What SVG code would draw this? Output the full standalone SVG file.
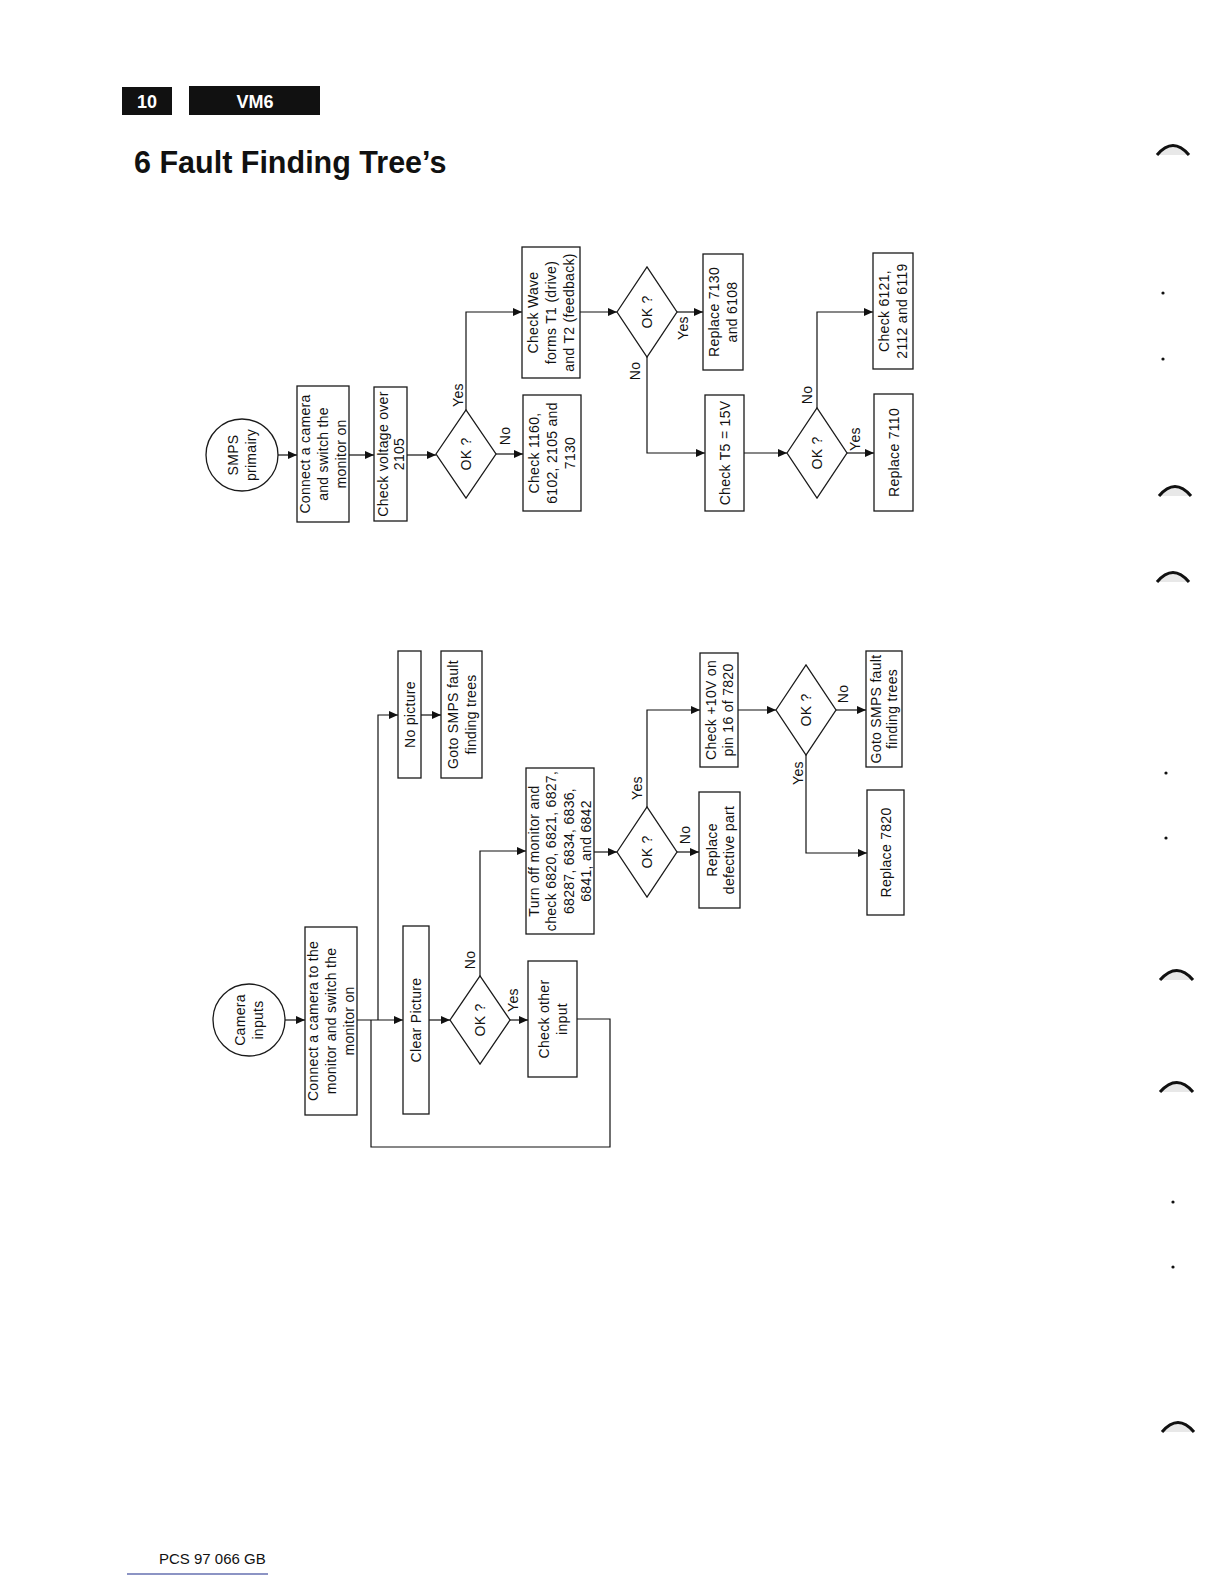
<svg xmlns="http://www.w3.org/2000/svg" width="1224" height="1584" viewBox="0 0 1224 1584">
<defs>
<style>
.box{fill:#fff;stroke:#1a1a1a;stroke-width:1.3}
.t{font-family:"Liberation Sans",Arial,sans-serif;font-size:14px;letter-spacing:0.3px;fill:#111}
.c{stroke:#111;stroke-width:1.2;fill:none}
.ca{stroke:#111;stroke-width:1.2;fill:none;marker-end:url(#ah)}
.hd{font-family:"Liberation Sans",Arial,sans-serif;font-weight:bold;fill:#fff;font-size:18px}
.mark{fill:#e8e8e8;stroke:#111;stroke-width:3}
</style>
<marker id="ah" markerWidth="9" markerHeight="8" refX="9" refY="4" orient="auto" markerUnits="userSpaceOnUse"><path d="M0,0 L9,4 L0,8 z" fill="#111"/></marker>
</defs>
<rect width="1224" height="1584" fill="#fff"/>

<g id="header">
<rect x="122" y="87" width="50" height="28" fill="#111"/>
<text class="hd" x="147" y="108" text-anchor="middle">10</text>
<rect x="189" y="86" width="131" height="29" fill="#111"/>
<text class="hd" x="255" y="108" text-anchor="middle">VM6</text>
<text x="134" y="173" font-family="Liberation Sans, Arial, sans-serif" font-weight="bold" font-size="30.5" fill="#111">6 Fault Finding Tree’s</text>
</g>

<g id="connectors">
<line class="ca" x1="278" y1="455" x2="297" y2="455"/>
<line class="ca" x1="349" y1="455" x2="374" y2="455"/>
<line class="ca" x1="407" y1="455" x2="436" y2="455"/>
<polyline class="ca" points="466,410 466,312 522,312"/>
<line class="ca" x1="496" y1="454" x2="523" y2="454"/>
<line class="ca" x1="580" y1="312" x2="617" y2="312"/>
<line class="ca" x1="677" y1="312" x2="703" y2="312"/>
<polyline class="ca" points="647,357 647,453 705,453"/>
<line class="ca" x1="744" y1="453" x2="787" y2="453"/>
<line class="ca" x1="847" y1="453" x2="874" y2="453"/>
<polyline class="ca" points="817,408 817,312 873,312"/>

<line class="ca" x1="285" y1="1020" x2="305" y2="1020"/>
<line class="ca" x1="357" y1="1020" x2="403" y2="1020"/>
<polyline class="ca" points="378,1020 378,715 398,715"/>
<line class="ca" x1="421" y1="715" x2="441" y2="715"/>
<line class="ca" x1="429" y1="1020" x2="450" y2="1020"/>
<line class="ca" x1="510" y1="1020" x2="528" y2="1020"/>
<polyline class="ca" points="480,976 480,851 526,851"/>
<polyline class="c" points="577,1019 610,1019 610,1147 371,1147 371,1020"/>
<line class="ca" x1="594" y1="852" x2="617" y2="852"/>
<line class="ca" x1="677" y1="852" x2="699" y2="852"/>
<polyline class="ca" points="647,807 647,710 700,710"/>
<line class="ca" x1="738" y1="710" x2="776" y2="710"/>
<line class="ca" x1="836" y1="710" x2="866" y2="710"/>
<polyline class="ca" points="806,755 806,853 867,853"/>

<g class="t" text-anchor="middle">
<text transform="translate(458,395) rotate(-90)" y="5">Yes</text>
<text transform="translate(505,436) rotate(-90)" y="5">No</text>
<text transform="translate(683,328) rotate(-90)" y="5">Yes</text>
<text transform="translate(635,371) rotate(-90)" y="5">No</text>
<text transform="translate(855,439) rotate(-90)" y="5">Yes</text>
<text transform="translate(807,395) rotate(-90)" y="5">No</text>
<text transform="translate(470,960) rotate(-90)" y="5">No</text>
<text transform="translate(513,1000) rotate(-90)" y="5">Yes</text>
<text transform="translate(637,788) rotate(-90)" y="5">Yes</text>
<text transform="translate(685,835) rotate(-90)" y="5">No</text>
<text transform="translate(843,694) rotate(-90)" y="5">No</text>
<text transform="translate(798,773) rotate(-90)" y="5">Yes</text>
</g>
</g>

<g id="smps-primairy">
<circle class="box" cx="242" cy="455" r="36"/>
<text class="t" text-anchor="middle" transform="translate(242,455) rotate(-90)"><tspan x="0" y="-4">SMPS</tspan><tspan x="0" y="14">primairy</tspan></text>
</g>
<g id="smps-connect">
<rect class="box" x="297" y="386" width="52" height="136"/>
<text class="t" text-anchor="middle" transform="translate(323,454) rotate(-90)"><tspan x="0" y="-13">Connect a camera</tspan><tspan x="0" y="5">and switch the</tspan><tspan x="0" y="23">monitor on</tspan></text>
</g>
<g id="smps-check-voltage">
<rect class="box" x="374" y="387" width="33" height="134"/>
<text class="t" text-anchor="middle" transform="translate(390.5,454) rotate(-90)"><tspan x="0" y="-3">Check voltage over</tspan><tspan x="0" y="13">2105</tspan></text>
</g>
<g id="smps-ok1">
<polygon class="box" points="436,454 466,410 496,454 466,498"/>
<text class="t" text-anchor="middle" transform="translate(466,454) rotate(-90)" y="5">OK ?</text>
</g>
<g id="smps-check-wave">
<rect class="box" x="522" y="247" width="58" height="131"/>
<text class="t" text-anchor="middle" transform="translate(551,312.5) rotate(-90)"><tspan x="0" y="-13">Check Wave</tspan><tspan x="0" y="5">forms T1 (drive)</tspan><tspan x="0" y="23">and T2 (feedback)</tspan></text>
</g>
<g id="smps-check-1160">
<rect class="box" x="523" y="395" width="58" height="116"/>
<text class="t" text-anchor="middle" transform="translate(552,453) rotate(-90)"><tspan x="0" y="-13">Check 1160,</tspan><tspan x="0" y="5">6102, 2105 and</tspan><tspan x="0" y="23">7130</tspan></text>
</g>
<g id="smps-ok2">
<polygon class="box" points="617,312 647,267 677,312 647,357"/>
<text class="t" text-anchor="middle" transform="translate(647,312) rotate(-90)" y="5">OK ?</text>
</g>
<g id="smps-replace-7130">
<rect class="box" x="703" y="254" width="40" height="116"/>
<text class="t" text-anchor="middle" transform="translate(723,312) rotate(-90)"><tspan x="0" y="-4">Replace 7130</tspan><tspan x="0" y="14">and 6108</tspan></text>
</g>
<g id="smps-check-t5">
<rect class="box" x="705" y="395" width="39" height="116"/>
<text class="t" text-anchor="middle" transform="translate(724.5,453) rotate(-90)" y="5">Check T5 = 15V</text>
</g>
<g id="smps-ok3">
<polygon class="box" points="787,453 817,408 847,453 817,498"/>
<text class="t" text-anchor="middle" transform="translate(817,453) rotate(-90)" y="5">OK ?</text>
</g>
<g id="smps-replace-7110">
<rect class="box" x="874" y="394" width="39" height="117"/>
<text class="t" text-anchor="middle" transform="translate(893.5,452.5) rotate(-90)" y="5">Replace 7110</text>
</g>
<g id="smps-check-6121">
<rect class="box" x="873" y="253" width="40" height="116"/>
<text class="t" text-anchor="middle" transform="translate(893,311) rotate(-90)"><tspan x="0" y="-4">Check 6121,</tspan><tspan x="0" y="14">2112 and 6119</tspan></text>
</g>

<g id="camera-inputs">
<circle class="box" cx="249" cy="1020" r="36"/>
<text class="t" text-anchor="middle" transform="translate(249,1020) rotate(-90)"><tspan x="0" y="-4">Camera</tspan><tspan x="0" y="14">inputs</tspan></text>
</g>
<g id="cam-connect">
<rect class="box" x="305" y="927" width="52" height="188"/>
<text class="t" text-anchor="middle" transform="translate(331,1021) rotate(-90)"><tspan x="0" y="-13">Connect a camera to the</tspan><tspan x="0" y="5">monitor and switch the</tspan><tspan x="0" y="23">monitor on</tspan></text>
</g>
<g id="cam-no-picture">
<rect class="box" x="398" y="651" width="23" height="127"/>
<text class="t" text-anchor="middle" transform="translate(409.5,714.5) rotate(-90)" y="5">No picture</text>
</g>
<g id="cam-goto-smps-1">
<rect class="box" x="441" y="651" width="41" height="127"/>
<text class="t" text-anchor="middle" transform="translate(461.5,714.5) rotate(-90)"><tspan x="0" y="-4">Goto SMPS fault</tspan><tspan x="0" y="14">finding trees</tspan></text>
</g>
<g id="cam-clear-picture">
<rect class="box" x="403" y="926" width="26" height="188"/>
<text class="t" text-anchor="middle" transform="translate(416,1020) rotate(-90)" y="5">Clear Picture</text>
</g>
<g id="cam-ok1">
<polygon class="box" points="450,1020 480,976 510,1020 480,1064"/>
<text class="t" text-anchor="middle" transform="translate(480,1020) rotate(-90)" y="5">OK ?</text>
</g>
<g id="cam-check-other">
<rect class="box" x="528" y="961" width="49" height="116"/>
<text class="t" text-anchor="middle" transform="translate(552.5,1019) rotate(-90)"><tspan x="0" y="-4">Check other</tspan><tspan x="0" y="14">input</tspan></text>
</g>
<g id="cam-turn-off">
<rect class="box" x="526" y="768" width="68" height="166"/>
<text class="t" text-anchor="middle" transform="translate(560,851) rotate(-90)"><tspan x="0" y="-21.25">Turn off monitor and</tspan><tspan x="0" y="-3.75">check 6820, 6821, 6827,</tspan><tspan x="0" y="13.75">68287, 6834, 6836,</tspan><tspan x="0" y="31.25">6841, and 6842</tspan></text>
</g>
<g id="cam-ok2">
<polygon class="box" points="617,852 647,807 677,852 647,897"/>
<text class="t" text-anchor="middle" transform="translate(647,852) rotate(-90)" y="5">OK ?</text>
</g>
<g id="cam-replace-defective">
<rect class="box" x="699" y="792" width="41" height="116"/>
<text class="t" text-anchor="middle" transform="translate(719.5,850) rotate(-90)"><tspan x="0" y="-3">Replace</tspan><tspan x="0" y="14">defective part</tspan></text>
</g>
<g id="cam-check-10v">
<rect class="box" x="700" y="653" width="38" height="114"/>
<text class="t" text-anchor="middle" transform="translate(719,710) rotate(-90)"><tspan x="0" y="-3">Check +10V on</tspan><tspan x="0" y="14">pin 16 of 7820</tspan></text>
</g>
<g id="cam-ok3">
<polygon class="box" points="776,710 806,665 836,710 806,755"/>
<text class="t" text-anchor="middle" transform="translate(806,710) rotate(-90)" y="5">OK ?</text>
</g>
<g id="cam-goto-smps-2">
<rect class="box" x="866" y="651" width="36" height="116"/>
<text class="t" text-anchor="middle" transform="translate(884,709) rotate(-90)"><tspan x="0" y="-3">Goto SMPS fault</tspan><tspan x="0" y="13">finding trees</tspan></text>
</g>
<g id="cam-replace-7820">
<rect class="box" x="867" y="790" width="37" height="125"/>
<text class="t" text-anchor="middle" transform="translate(885.5,852.5) rotate(-90)" y="5">Replace 7820</text>
</g>

<g id="footer">
<text x="159" y="1564" font-family="Liberation Sans, Arial, sans-serif" font-size="15" fill="#111">PCS 97 066 GB</text>
<line x1="127" y1="1574" x2="268" y2="1574" stroke="#1a2a8a" stroke-width="1.2"/>
</g>

<g id="binder-marks">
<path class="mark" d="M1157,155 Q1173,136 1189,155"/>
<path class="mark" d="M1159,496 Q1175,477 1191,496"/>
<path class="mark" d="M1157,582 Q1173,563 1189,582"/>
<path class="mark" d="M1160,980 Q1177,961 1193,980"/>
<path class="mark" d="M1160,1092 Q1177,1073 1193,1092"/>
<path class="mark" d="M1162,1432 Q1178,1413 1194,1432"/>
<circle cx="1163" cy="293" r="1.6" fill="#111"/>
<circle cx="1163" cy="359" r="1.6" fill="#111"/>
<circle cx="1166" cy="773" r="1.6" fill="#111"/>
<circle cx="1166" cy="838" r="1.6" fill="#111"/>
<circle cx="1173" cy="1202" r="1.6" fill="#111"/>
<circle cx="1173" cy="1267" r="1.6" fill="#111"/>
</g>
</svg>
